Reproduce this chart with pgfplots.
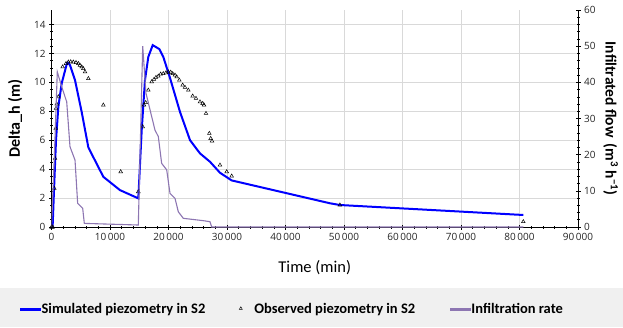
\documentclass[border=0pt]{standalone}
\usepackage{pgfplots}
\pgfplotsset{compat=1.18}
\usepackage{fontspec}
\setmainfont{Open Sans}
\newfontfamily\legfont{Carlito}
\definecolor{simblue}{RGB}{0,0,255}
\definecolor{infpurple}{RGB}{141,118,178}
\definecolor{gridgray}{RGB}{217,217,217}
\definecolor{leggray}{RGB}{240,240,240}
\newcommand{\lf}{\legfont\bfseries\fontsize{14.5}{17}\selectfont}
\pgfplotsset{
  common/.style={
    scale only axis, width=526.5pt, height=217pt,
    at={(51.5pt,100pt)}, anchor=south west,
    xmin=0, xmax=90000,
    scaled ticks=false,
    tick align=center,
    major tick length=5pt, minor tick length=3pt,
    every tick/.style={black, line width=0.6pt},
    axis line style={black, line width=0.6pt},
    /pgf/number format/assume math mode=true,
    /pgf/number format/1000 sep={\,},
    tick label style={font=\fontsize{10}{12}\selectfont, text=black!85},
  },
  blueleg/.style={legend image code/.code={\fill[simblue] (0pt,-1pt) rectangle (20pt,1pt);}},
  purpleleg/.style={legend image code/.code={\path[draw=none,fill=none] (-33pt,0pt) rectangle (0pt,0.1pt); \fill[infpurple] (0pt,-0.8pt) rectangle (20pt,0.8pt);}},
  trileg/.style={legend image code/.code={\path[draw=none,fill=none] (-33.4pt,0pt) rectangle (0pt,0.1pt); \draw[black, line width=0.45pt] plot[mark=triangle, mark size=1.7pt] coordinates {(0pt,1pt)};}},
}
\begin{document}
\begin{tikzpicture}[x=1pt,y=1pt]
\useasboundingbox (0,0) rectangle (623,327);
\fill[leggray] (0,0) rectangle (623,39);
\begin{axis}[common,
  axis x line*=bottom, axis y line*=left,
  ymin=0, ymax=15,
  ytick={0,2,...,14},
  xtick={0,10000,...,90000},
  minor x tick num=4, minor y tick num=3,
  grid=major, major grid style={gridgray, line width=0.6pt},
  xlabel={Time (min)},
  xlabel style={at={(axis description cs:0.5,-0.189)}, anchor=center, font=\legfont\fontsize{16.5}{18}\selectfont},
  ylabel={Delta\_h (m)},
  ylabel style={at={(axis description cs:-0.069,0.5)}, anchor=center, font=\legfont\bfseries\fontsize{16}{18}\selectfont},
  legend columns=3,
  legend cell align=left,
  legend style={at={(axis description cs:-0.0598,-0.38)}, anchor=west, draw=none, fill=none,
    inner sep=0pt, font=\lf},
]
\addplot[simblue, line width=2pt, forget plot] coordinates {
(0,0) (200,0.1) (430,2.55) (770,6.0) (1170,8.3) (1740,9.92) (2600,11.26) (2800,11.35)
(3160,11.19) (4020,10.15) (5160,7.95) (6300,5.5) (8860,3.47) (11700,2.55) (14840,1.98)
(15420,6.7) (15980,10.15) (16550,11.76) (17300,12.57) (18430,12.3) (19110,11.76)
(20260,10.3) (21970,7.95) (23680,6.0) (25380,5.09) (27090,4.51) (28800,3.75)
(30800,3.22) (47600,1.64) (49300,1.52) (80650,0.83)
};
\addplot[only marks, mark=triangle, mark size=2.1pt, black, mark options={line width=0.5pt}, forget plot] coordinates {
(0,0) (100,0) (200,0) (480,2.67) (600,4.74) (720,6.82) (770,8.2) (900,8.5) (1170,9.0)
(1910,11.07) (2480,11.3) (2880,11.4) (3280,11.42) (3730,11.4) (4190,11.37) (4590,11.3)
(4870,11.18) (5160,11.07) (5440,10.95) (5730,10.72) (6300,10.26) (8860,8.43)
(11830,3.82) (14840,2.44) (15590,6.93) (15810,8.43) (16100,8.6) (16550,9.46)
(17130,10.04) (17520,10.2) (17860,10.34) (18260,10.43) (18660,10.57) (19110,10.6)
(19570,10.66) (19970,10.72) (20370,10.7) (20710,10.6) (21110,10.5) (21400,10.38)
(21850,10.15) (22420,9.81) (22820,9.65) (23390,9.46) (24130,9.05) (24700,8.89)
(25380,8.65) (25840,8.54) (26070,8.43) (26410,7.85) (26980,6.47) (27210,6.12)
(27440,5.94) (28800,4.28) (29950,3.82) (30800,3.52) (49300,1.52) (80650,0.37)
};
\addlegendimage{blueleg}
\addlegendentry{\lf\hspace{-1pt}Simulated piezometry in S2}
\addlegendimage{trileg}
\addlegendentry{\lf\hspace{10pt}Observed piezometry in S2}
\addlegendimage{purpleleg}
\addlegendentry{\lf\hspace{-1pt}Infiltration rate}
\end{axis}
\begin{axis}[common,
  axis x line=none, axis y line*=right,
  ymin=0, ymax=60,
  ytick={0,10,...,60},
  minor y tick num=4,
  ylabel={Infiltrated flow\ \,(m\textsuperscript{3} h\textsuperscript{−1})},
  ylabel style={at={(axis description cs:1.062,0.5)}, anchor=center, rotate=180, font=\legfont\bfseries\fontsize{15.5}{18}\selectfont},
]
\addplot[infpurple, line width=1.1pt] coordinates {
(0,0) (500,20) (990,42.9) (1740,38.8) (2310,36.0) (2600,34.6) (3160,22.2) (4020,18.5)
(4470,6.55) (5330,5.17) (5610,1.0) (14840,0.55) (15590,50.0) (16150,37) (17130,30.5)
(17690,26.8) (18260,25.0) (18830,17.6) (19690,15.8) (20260,9.3) (21110,7.9) (21680,4.2)
(22530,2.4) (25950,1.75) (27090,1.47) (27380,0) (80650,0)
};
\end{axis}
\end{tikzpicture}
\end{document}
